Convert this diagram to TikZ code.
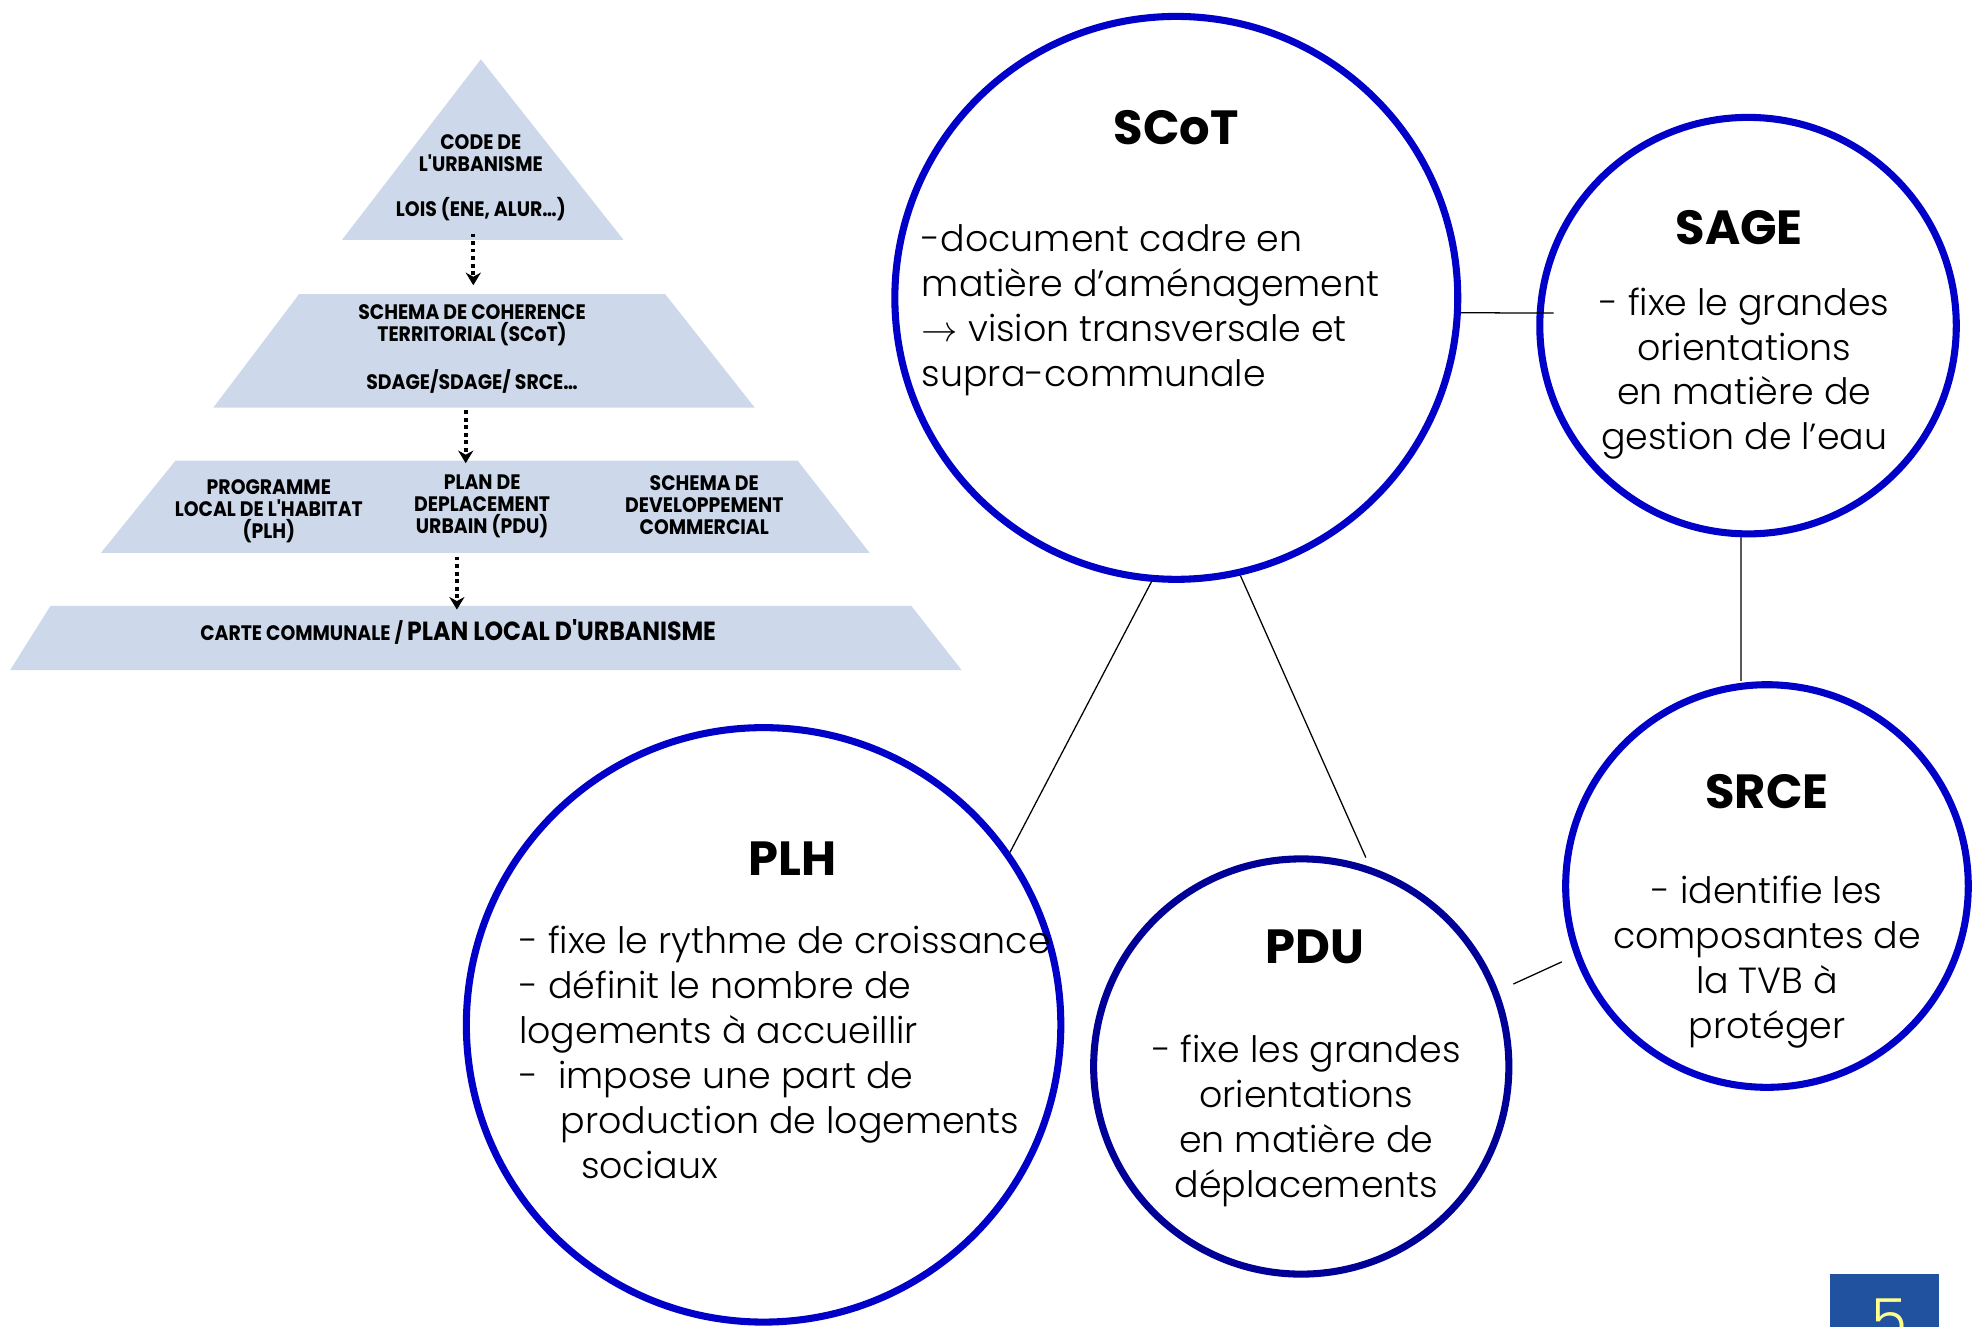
\documentclass[tikz,border=0pt]{standalone}
\usepackage{fontspec}
\setmainfont{Poppins}[UprightFont=*-Light, BoldFont=*-Bold]
\newfontfamily\pyrfont{Poppins}[FakeStretch=0.9]
\usepackage{tikz}
\usetikzlibrary{arrows.meta}
\definecolor{RingBlue}{RGB}{0,0,200}
\definecolor{RingNavy}{RGB}{0,0,150}
\definecolor{PyrBlue}{RGB}{205,217,234}
\definecolor{PageBlue}{RGB}{33,82,160}
\definecolor{PageYellow}{RGB}{255,255,140}

\newcommand{\bodyfont}{\fontsize{14.4}{17.8}\selectfont}
\newcommand{\titlefont}{\fontsize{19}{22}\selectfont\bfseries}
\newcommand{\pyrsize}{\fontsize{8.3}{8.7}\selectfont\pyrfont\bfseries}

\tikzset{
  ring/.style={circle, draw=RingBlue, line width=2.8pt, inner sep=0pt, minimum size=#1*0.5pt},
  heading/.style={font=\titlefont, inner sep=0pt},
  blurb/.style={font=\bodyfont, align=center, inner sep=0pt},
  tier/.style={fill=PyrBlue},
  tiertext/.style={font=\pyrsize, align=center, inner sep=0pt},
  down/.style={line width=1.5pt, dash pattern=on 1.5pt off 1.5pt, -{Stealth[length=5pt,width=6pt]}},
  link/.style={line width=0.5pt}
}

\begin{document}
\begin{tikzpicture}[x=0.5pt, y=-0.5pt]
\useasboundingbox (0,0) rectangle (1568,1051);
\clip (0,0) rectangle (1568,1051);

% pyramid
\fill[tier] (381,47) -- (494,190) -- (271,190) -- cycle;
\fill[tier] (237,233) -- (527,233) -- (598,323) -- (169,323) -- cycle;
\fill[tier] (139,365) -- (632,365) -- (689,438) -- (80,438) -- cycle;
\fill[tier] (40,480) -- (722,480) -- (762,531) -- (8,531) -- cycle;

\node[tiertext] (code) at (381,121) {CODE DE\\L'URBANISME};
\node[tiertext] (lois) at (381,166) {LOIS (ENE, ALUR…)};
\node[tiertext] (scotP) at (374,258) {SCHEMA DE COHERENCE\\TERRITORIAL (SCoT)};
\node[tiertext] (sdage) at (374,302) {SDAGE/SDAGE/ SRCE…};
\node[tiertext] (plhP) at (213,405) {PROGRAMME\\LOCAL DE L'HABITAT\\(PLH)};
\node[tiertext] (pduP) at (382,401) {PLAN DE\\DEPLACEMENT\\URBAIN (PDU)};
\node[tiertext] (sdcP) at (558,400) {SCHEMA DE\\DEVELOPPEMENT\\COMMERCIAL};
\node[tiertext] (pluP) at (363,501) {CARTE COMMUNALE / {\fontsize{10.4}{11}\selectfont PLAN LOCAL D'URBANISME}};

% arrows between tiers
\draw[down] (375,185) coordinate (t1) -- (375,226) coordinate (t2);
\draw[down] (369,325) coordinate (t3) -- (369,367) coordinate (t4);
\draw[down] (362,441) coordinate (t5) -- (362,483) coordinate (t6);

% circles
\node[ring=446] (scot) at (932,236) {};
\node[ring=330] (sage) at (1385,258) {};
\node[ring=319] (srce) at (1400,702) {};
\node[ring=471] (plh) at (605,812) {};
\node[ring=329, draw=RingNavy] (pdu) at (1031,845) {};

\node[heading] (scotT) at (932,101) {SCoT};
\node[blurb, align=left, anchor=west] (scotB) at (730,246) {-document cadre en\\matière d’aménagement\\$\rightarrow$ vision transversale et\\supra-communale};

\node[heading] (sageT) at (1378,180) {SAGE};
\node[blurb] (sageB) at (1382,296) {- fixe le grandes\\orientations\\en matière de\\gestion de l’eau};

\node[heading] (srceT) at (1400,627) {SRCE};
\node[blurb] (srceB) at (1400,762) {- identifie les\\composantes de\\la TVB à\\protéger};

\node[heading] (pduT) at (1042,750) {PDU};
\node[blurb] (pduB) at (1035,888) {- fixe les grandes\\orientations\\en matière de\\déplacements};

\node[heading] (plhT) at (628,680) {PLH};
\node[blurb, align=left, anchor=west] (plhB) at (411,834) {- fixe le rythme de croissance\\- définit le nombre de\\logements à accueillir\\-\ \ impose une part de\\\hspace*{16.5pt}production de logements\\\hspace*{24.5pt}sociaux};

% links
\coordinate (sageIn) at (1231,248);
\draw[link] (scot.-3) -- (sageIn);
\draw[line width=0.9pt, black!65] (sage.-92) -- (sage.-92 |- srce.north);
\draw[link] (scot.-95) -- (plh.35);
\draw[link, shorten >=4pt] (scot.-77) -- (pdu.71);
\draw[link, shorten <=6.5pt, shorten >=5.5pt] (pdu.21) -- (srce.200);

% page number
\fill[PageBlue] (1450,1009) rectangle (1536,1060);
\node[font=\fontsize{23}{23}\selectfont, text=PageYellow, anchor=base, inner sep=0pt] (pnum) at (1497,1062) {5};
\end{tikzpicture}
\end{document}
